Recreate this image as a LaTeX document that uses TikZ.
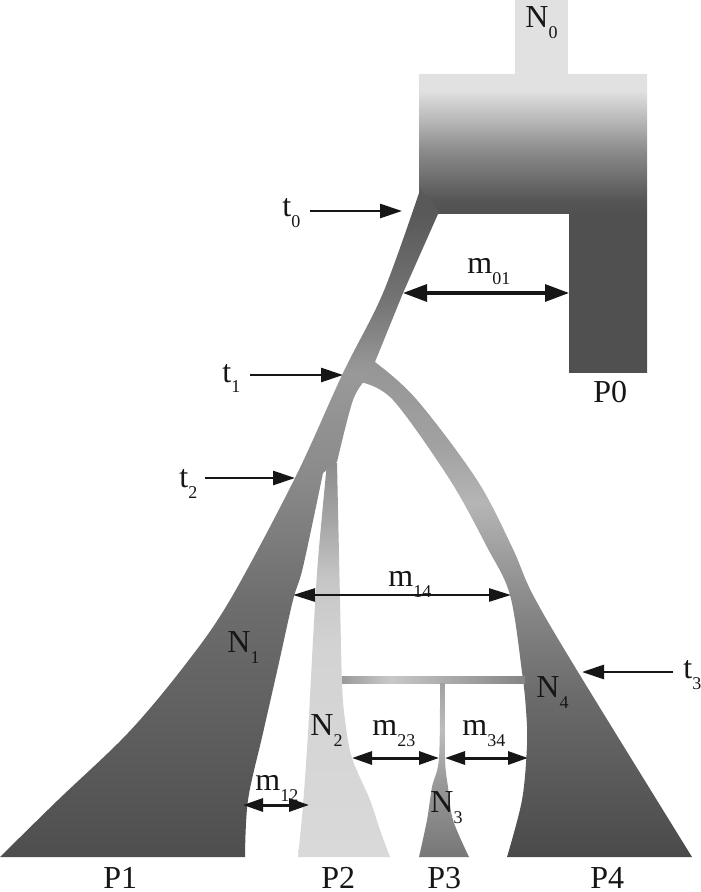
\documentclass[tikz,border=0pt]{standalone}
\usepackage{fontspec}
\setmainfont{Liberation Serif}
\usetikzlibrary{arrows.meta}
\definecolor{ink}{HTML}{161616}
\definecolor{cN0}{HTML}{E1E1E1}
% top block
\definecolor{cTa}{HTML}{505050}
\definecolor{cTb}{HTML}{565656}
\definecolor{cTc}{HTML}{8C8C8C}
\definecolor{cTd}{HTML}{B8B8B8}
\definecolor{cTe}{HTML}{E1E1E1}
% lineage A
\definecolor{cAa}{HTML}{4E4E4E}
\definecolor{cAb}{HTML}{6E6E6E}
\definecolor{cAc}{HTML}{8A8A8A}
\definecolor{cAd}{HTML}{999999}
\definecolor{cAe}{HTML}{747474}
\definecolor{cAf}{HTML}{595959}
% lineage B
\definecolor{cBa}{HTML}{4A4A4A}
\definecolor{cBb}{HTML}{6A6A6A}
\definecolor{cBc}{HTML}{838383}
\definecolor{cBd}{HTML}{9C9C9C}
\definecolor{cBe}{HTML}{B5B5B5}
\definecolor{cBf}{HTML}{A2A2A2}
\definecolor{cBg}{HTML}{959595}
% P2
\definecolor{cCa}{HTML}{D9D9D9}
\definecolor{cCb}{HTML}{D3D3D3}
\definecolor{cCc}{HTML}{C6C6C6}
\definecolor{cCd}{HTML}{A5A5A5}
\definecolor{cCe}{HTML}{8C8C8C}
% P3
\definecolor{cDa}{HTML}{777777}
\definecolor{cDb}{HTML}{9A9A9A}
\definecolor{cDc}{HTML}{BDBDBD}
\definecolor{cDd}{HTML}{A0A0A0}
% bar
\definecolor{cEa}{HTML}{9A9A9A}
\definecolor{cEb}{HTML}{C8C8C8}
\definecolor{cEc}{HTML}{A0A0A0}
\definecolor{cEd}{HTML}{858585}

\pgfdeclareverticalshading{shTop}{100bp}{color(0bp)=(cTa); color(51.6bp)=(cTa); color(53.9bp)=(cTb); color(62.3bp)=(cTc); color(67.3bp)=(cTd); color(72.3bp)=(cTe); color(100bp)=(cTe)}
\pgfdeclareverticalshading{shA}{100bp}{color(0bp)=(cAa); color(25bp)=(cAa); color(44.3bp)=(cAb); color(53.4bp)=(cAc); color(61.3bp)=(cAd); color(66.8bp)=(cAe); color(73.2bp)=(cAf); color(100bp)=(cAf)}
\pgfdeclareverticalshading{shB}{100bp}{color(0bp)=(cBa); color(25bp)=(cBa); color(40.7bp)=(cBb); color(48.7bp)=(cBc); color(54.8bp)=(cBd); color(60.3bp)=(cBe); color(65.8bp)=(cBf); color(74.6bp)=(cBg); color(100bp)=(cBg)}
\pgfdeclareverticalshading{shC}{100bp}{color(0bp)=(cCa); color(25bp)=(cCa); color(51.3bp)=(cCb); color(60.2bp)=(cCc); color(67.8bp)=(cCd); color(75bp)=(cCe); color(100bp)=(cCe)}
\pgfdeclareverticalshading{shD}{100bp}{color(0bp)=(cDa); color(25bp)=(cDa); color(47.1bp)=(cDb); color(61.5bp)=(cDc); color(75bp)=(cDd); color(100bp)=(cDd)}
\pgfdeclarehorizontalshading{shE}{100bp}{color(0bp)=(cEa); color(25bp)=(cEa); color(38bp)=(cEb); color(60bp)=(cEc); color(75bp)=(cEd); color(100bp)=(cEd)}

\newcommand\sbx[1]{\raisebox{-5.5pt}{\fontsize{9}{9}\selectfont #1}}

\begin{document}
\begin{tikzpicture}[x=0.5pt,y=-0.5pt,
  lbl/.style={anchor=base west, inner sep=0pt, font=\fontsize{16}{16}\selectfont, text=ink},
  tarr/.style={draw=ink, line width=1.4pt, -{Triangle[length=11pt,width=7pt]}},
  bigarr/.style={draw=ink, line width=1.6pt, {Triangle[length=12pt,width=8.5pt]}-{Triangle[length=12pt,width=8.5pt]}},
  midarr/.style={draw=ink, line width=1.3pt, {Triangle[length=11pt,width=6.5pt]}-{Triangle[length=11pt,width=6.5pt]}},
  smallarr/.style={draw=ink, line width=1.5pt, {Triangle[length=10pt,width=6.5pt]}-{Triangle[length=10pt,width=6.5pt]}},
  smooth edge/.style={smooth, tension=0.55}]
\useasboundingbox (0,0) rectangle (700,892);

% ancestral population N0
\fill[cN0] (515,0) rectangle (568,75);
% ancestral block with P0 leg (lower left corner cut where the lineage leaves)
\shade[shading=shTop] (419,74) -- (647,74) -- (647,373) -- (569,373) -- (569,214) -- (438,214) -- (419,193) -- cycle;

% lineage to P4 (branch at t1)
\shade[shading=shB]
  plot[smooth edge] coordinates {(366,360) (375,362) (417,400) (477,480) (512,547) (533,595) (578,672) (692,857)}
  -- plot[smooth edge] coordinates {(507,857) (522,800) (527,745) (526,710) (522,672) (510,595) (487,547) (450,480) (393,400) (360,382)}
  -- cycle;

% lineage to P1 (from t0)
\shade[shading=shA]
  plot[smooth edge] coordinates {(419,193) (383,293) (343,373) (295,478) (230,600) (185,665) (128,733) (58,800) (0,857)}
  -- plot[smooth edge] coordinates {(245,857) (248,800) (263,733) (278,667) (293,600) (303,567) (323,473)}
  -- (337,462)
  -- plot[smooth edge] coordinates {(337,462) (353,400) (367,378)}
  -- (375,362) -- (403,293) -- (438,214) -- (440,212) -- (421,190) -- cycle;

% P2 (branch at t2)
\shade[shading=shC]
  plot[smooth edge] coordinates {(327,463) (318,560) (313,640) (308,733) (303,805) (298,857)}
  -- plot[smooth edge] coordinates {(390,857) (380,830) (370,800) (352,758) (345,720) (342,683) (340,600) (337,463)}
  -- cycle;

% bar from N4 (t3)
\shade[shading=shE] (342,676) rectangle (525,683);

% P3
\shade[shading=shD]
  plot[smooth edge] coordinates {(440,683) (439,758) (432,787) (427,820) (419,857)}
  -- plot[smooth edge] coordinates {(469,857) (453,820) (448,787) (445,758) (445,683)}
  -- cycle;

% labels
\node[lbl] (lN0) at (525,28) {N\sbx{0}};
\node[lbl] (lP0) at (593,402) {P0};
\node[lbl] (lt0) at (282,217) {t\sbx{0}};
\node[lbl] (lt1) at (222,382) {t\sbx{1}};
\node[lbl] (lt2) at (179,487) {t\sbx{2}};
\node[lbl] (lt3) at (683,678) {t\sbx{3}};
\node[lbl] (lm01) at (467,274) {m\sbx{01}};
\node[lbl] (lm14) at (388,586) {m\sbx{14}};
\node[lbl] (lm12) at (255,790) {m\sbx{12}};
\node[lbl] (lm23) at (372,735) {m\sbx{23}};
\node[lbl] (lm34) at (462,735) {m\sbx{34}};
\node[lbl] (lN1) at (227,652) {N\sbx{1}};
\node[lbl] (lN2) at (310,735) {N\sbx{2}};
\node[lbl] (lN3) at (430,812) {N\sbx{3}};
\node[lbl] (lN4) at (536,697) {N\sbx{4}};
\node[lbl] (lP1) at (103,888) {P1};
\node[lbl] (lP2) at (321,888) {P2};
\node[lbl] (lP3) at (427,888) {P3};
\node[lbl] (lP4) at (590,888) {P4};

% arrow end points
\coordinate (t0a) at (310,211); \coordinate (t0b) at (402,211);
\coordinate (t1a) at (250,375); \coordinate (t1b) at (343,375);
\coordinate (t2a) at (205,478); \coordinate (t2b) at (295,478);
\coordinate (t3a) at (673,672); \coordinate (t3b) at (582,672);
\coordinate (m01a) at (403,293); \coordinate (m01b) at (569,293);
\coordinate (m14a) at (293,595); \coordinate (m14b) at (511,595);
\coordinate (m12a) at (243,805); \coordinate (m12b) at (309,805);
\coordinate (m23a) at (352,758); \coordinate (m23b) at (439,758);
\coordinate (m34a) at (445,758); \coordinate (m34b) at (528,758);

\draw[tarr] (t0a) -- (t0b);
\draw[tarr] (t1a) -- (t1b);
\draw[tarr] (t2a) -- (t2b);
\draw[tarr] (t3a) -- (t3b);
\draw[bigarr] (m01a) -- (m01b);
\draw[midarr] (m14a) -- (m14b);
\draw[smallarr] (m12a) -- (m12b);
\draw[smallarr] (m23a) -- (m23b);
\draw[smallarr] (m34a) -- (m34b);
\end{tikzpicture}
\end{document}
